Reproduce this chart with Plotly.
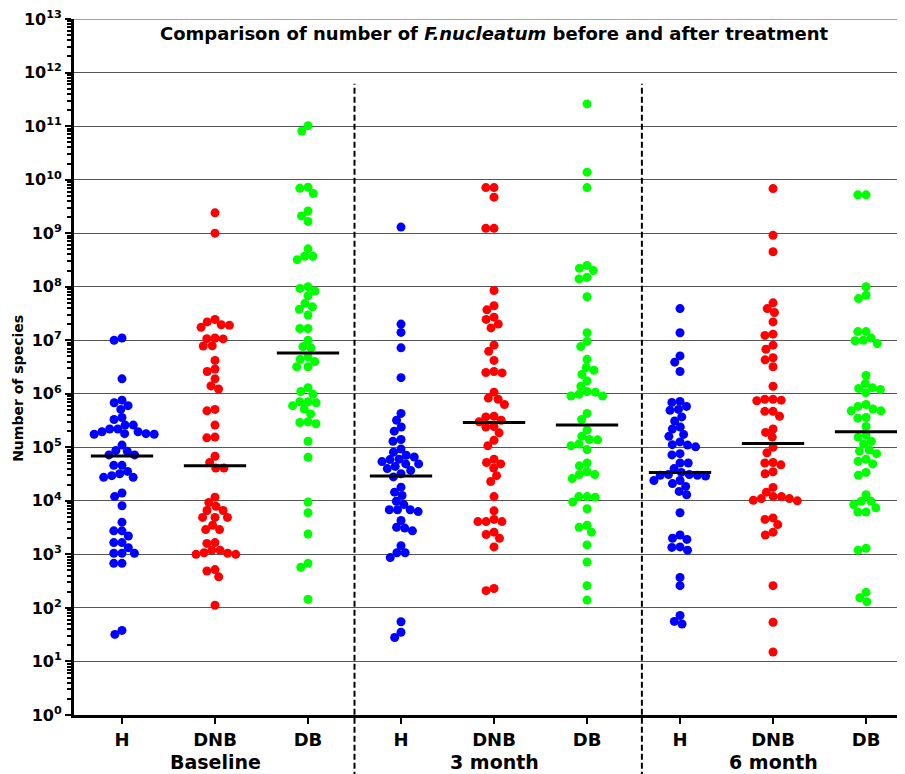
import numpy as np
import plotly.graph_objects as go

# ---------------- data ----------------
categories = ["H", "DNB", "DB", "H", "DNB", "DB", "H", "DNB", "DB"]
timepoints = ["Baseline", "3 month", "6 month"]
group_colors = ["#0000FF", "#FF0000", "#00FF00"]

baseline_H = [1.1e7, 1.0e7, 1.9e6, 7.6e5, 6.0e5, 6.8e5, 5.1e5, 3.6e5, 3.3e5, 2.6e5,
              2.2e5, 1.95e5, 1.8e5, 1.75e5, 1.75e5, 1.8e5, 1.95e5, 2.2e5, 2.6e5, 1.1e5,
              8.4e4, 7.2e4, 7.2e4, 8.7e4, 4.6e4, 3.2e4, 2.75e4, 2.75e4, 2.95e4, 3.55e4,
              4.6e4, 1.4e4, 1.2e4, 8.1e3, 4.0e3, 2.75e3, 2.75e3, 2.2e3, 1.66e3, 1.66e3,
              1.33e3, 1.05e3, 1.05e3, 1.05e3, 680, 680, 32, 38]
baseline_DNB = [2.4e9, 1.0e9, 2.2e7, 1.9e7, 1.74e7, 1.95e7, 2.45e7, 1.07e7, 1.06e7, 1.1e7,
                7.8e6, 7.9e6, 4.2e6, 2.9e6, 2.6e6, 1.9e6, 1.23e6, 1.4e6, 5.1e5, 4.8e5,
                2.6e5, 1.5e5, 1.55e5, 6.8e4, 4.1e4, 4.1e4, 5.2e4, 1.17e4, 9.3e3, 7.9e3,
                6.6e3, 6.6e3, 4.9e3, 4.9e3, 4.9e3, 3.5e3, 2.9e3, 2.9e3, 1.6e3, 1.66e3,
                1.2e3, 1.05e3, 1.0e3, 1.0e3, 1.07e3, 1.2e3, 490, 380, 520, 112]
baseline_DB = [1.02e11, 8.1e10, 7.2e9, 5.5e9, 6.9e9, 2.1e9, 1.66e9, 2.6e9, 3.7e8, 3.2e8,
               3.7e8, 5.1e8, 9.3e7, 8.3e7, 1.0e8, 6.8e7, 4.9e7, 3.8e7, 4.2e7, 2.95e7,
               1.66e7, 1.66e7, 1.0e7, 7.2e6, 7.6e6, 4.4e6, 3.2e6, 3.2e6, 4.0e6, 4.9e6,
               1.3e6, 1.1e6, 9.8e5, 7.1e5, 6.0e5, 7.1e5, 6.8e5, 5.2e5, 4.2e5, 3.0e5,
               2.75e5, 2.9e5, 1.3e5, 6.5e4, 9.5e3, 6.0e3, 2.4e3, 680, 575, 145]
month3_H = [1.3e9, 1.4e7, 2.0e7, 7.2e6, 2.0e6, 4.3e5, 3.2e5, 2.0e5, 2.4e5, 1.3e5,
            1.4e5, 8.1e4, 6.6e4, 5.9e4, 5.4e4, 6.0e4, 7.1e4, 9.3e4, 4.9e4, 4.4e4,
            3.7e4, 2.8e4, 3.2e4, 4.0e4, 4.9e4, 1.8e4, 1.45e4, 1.26e4, 9.8e3, 8.5e3,
            6.8e3, 6.3e3, 6.8e3, 6.8e3, 4.3e3, 3.1e3, 2.75e3, 3.2e3, 1.45e3, 1.07e3,
            870, 1.07e3, 55, 35, 28]
month3_DNB = [7.1e9, 7.1e9, 4.7e9, 1.23e9, 1.23e9, 8.5e7, 3.7e7, 4.4e7, 2.7e7, 2.0e7,
              1.7e7, 2.45e7, 8.1e6, 6.2e6, 4.2e6, 2.5e6, 2.45e6, 2.6e6, 1.07e6, 8.3e5,
              7.9e5, 6.3e5, 3.8e5, 3.7e5, 3.2e5, 3.0e5, 2.45e5, 2.4e5, 1.86e5, 1.35e5,
              1.07e5, 6.0e4, 5.2e4, 4.1e4, 4.9e4, 2.3e4, 2.95e4, 1.2e4, 6.5e3, 4.5e3,
              4.1e3, 4.1e3, 4.1e3, 2.6e3, 2.0e3, 2.35e3, 1.38e3, 210, 230]
month3_DB = [2.6e11, 1.38e10, 7.1e9, 2.5e8, 2.0e8, 1.4e8, 1.5e8, 2.2e8, 6.5e7, 1.38e7,
             9.5e6, 7.6e6, 4.4e6, 2.75e6, 3.1e6, 2.3e6, 1.74e6, 1.38e6, 1.07e6, 9.1e5,
             9.1e5, 1.1e6, 9.8e5, 4.3e5, 3.3e5, 2.1e5, 1.6e5, 1.38e5, 1.07e5, 1.15e5,
             1.4e5, 9.1e4, 5.1e4, 4.5e4, 3.1e4, 2.6e4, 3.1e4, 3.5e4, 1.2e4, 9.5e3,
             1.17e4, 1.2e4, 7.1e3, 3.5e3, 3.2e3, 2.6e3, 1.5e3, 720, 260, 140]
month6_H = [3.9e7, 1.38e7, 5.1e6, 3.9e6, 2.6e6, 7.2e5, 5.8e5, 4.9e5, 5.1e5, 6.9e5,
            3.7e5, 3.1e5, 2.4e5, 2.2e5, 1.6e5, 1.74e5, 1.12e5, 1.02e5, 1.1e5, 1.26e5,
            7.2e4, 7.6e4, 5.1e4, 5.1e4, 4.0e4, 3.1e4, 3.0e4, 2.9e4, 3.0e4, 3.1e4,
            3.4e4, 2.1e4, 2.4e4, 2.4e4, 1.86e4, 1.5e4, 1.3e4, 6.0e3, 2.0e3, 2.3e3,
            1.9e3, 1.38e3, 1.2e3, 1.35e3, 370, 260, 72, 50, 56]
month6_DNB = [6.8e9, 9.1e8, 4.5e8, 5.0e7, 3.3e7, 3.9e7, 2.2e7, 1.23e7, 1.3e7, 6.8e6,
              8.1e6, 4.3e6, 4.7e6, 3.2e6, 1.38e6, 7.9e5, 7.4e5, 7.6e5, 7.9e5, 4.7e5,
              3.8e5, 4.7e5, 2.2e5, 1.9e5, 1.55e5, 1.0e5, 7.9e4, 5.2e4, 4.7e4, 3.2e4,
              3.5e4, 5.1e4, 1.78e4, 1.45e4, 1.2e4, 1.1e4, 1.02e4, 1.0e4, 1.1e4, 1.2e4,
              4.5e3, 4.8e3, 3.6e3, 2.6e3, 2.3e3, 260, 54, 15]
month6_DB = [5.2e9, 5.2e9, 1.0e8, 6.0e7, 6.9e7, 1.45e7, 1.45e7, 1.1e7, 9.8e6, 8.7e6,
             1.0e7, 2.2e6, 1.3e6, 1.2e6, 1.05e6, 1.26e6, 1.55e6, 6.3e5, 5.2e5, 4.8e5,
             4.8e5, 5.8e5, 3.5e5, 3.6e5, 2.45e5, 1.55e5, 1.7e5, 1.15e5, 1.3e5, 8.5e4,
             8.9e4, 7.6e4, 6.0e4, 4.9e4, 5.5e4, 3.0e4, 3.4e4, 1.3e4, 9.8e3, 9.8e3,
             7.4e3, 8.5e3, 6.2e3, 6.2e3, 1.3e3, 1.2e3, 195, 130, 155]

medians = [6.9e4, 4.5e4, 5.8e6, 2.9e4, 2.9e5, 2.6e5, 3.4e4, 1.18e5, 1.96e5]

groups = [baseline_H, baseline_DNB, baseline_DB,
          month3_H, month3_DNB, month3_DB,
          month6_H, month6_DNB, month6_DB]

y_exponents = list(range(0, 14))

# ---------------- layout geometry ----------------
# the page body adds an 8px margin, so the figure is 8px smaller than the window
W, H = 897, 766
ML, MR, MT, MB = 66, 0, 9, 59
x_range = [-0.516, 8.419]
y_range = [-0.0007, 13.0007]
plot_w = W - ML - MR
plot_h = H - MT - MB
px_per_x = plot_w / (x_range[1] - x_range[0])
px_per_decade = plot_h / (y_range[1] - y_range[0])

MARKER = 9
DIST = 8.2


def swarm_offsets(values):
    """Greedy beeswarm: place each point at the smallest horizontal offset
    that does not overlap points already placed (pixel space)."""
    ly = np.log10(np.asarray(values, dtype=float)) * px_per_decade
    order = np.argsort(-ly, kind="stable")
    placed = []
    xs = np.zeros(len(ly))
    for i in order:
        y = ly[i]
        forb = []
        cands = [0.0]
        for (px, py) in placed:
            dy = abs(py - y)
            if dy < DIST:
                dx = np.sqrt(DIST * DIST - dy * dy)
                forb.append((px - dx, px + dx))
                cands += [px - dx, px + dx]
        cands.sort(key=lambda c: (abs(c), c))
        for c in cands:
            if all(not (a + 1e-6 < c < b - 1e-6) for a, b in forb):
                xs[i] = c
                break
        placed.append((xs[i], y))
    return xs / px_per_x


font_family = "DejaVu Sans, Liberation Sans, Arial, sans-serif"

fig = go.Figure()

for gi, vals in enumerate(groups):
    offs = swarm_offsets(vals)
    fig.add_trace(go.Scatter(
        x=gi + offs, y=vals, mode="markers",
        marker=dict(size=MARKER, color=group_colors[gi % 3], line=dict(width=0)),
        hoverinfo="y", showlegend=False,
    ))

for gi, m in enumerate(medians):
    fig.add_trace(go.Scatter(
        x=[gi - 0.335, gi + 0.335], y=[m, m], mode="lines",
        line=dict(color="black", width=3), hoverinfo="skip", showlegend=False,
    ))

# top gridline (plotly drops the grid line lying on the plot edge)
fig.add_shape(type="line", xref="paper", yref="y", x0=0, x1=1,
              y0=10 ** y_exponents[-1], y1=10 ** y_exponents[-1],
              line=dict(color="#555555", width=1), layer="below")

# separators between time points
for xs in [2.5, 5.59]:
    fig.add_shape(type="line", xref="x", yref="paper", x0=xs, x1=xs,
                  y0=-0.09, y1=0.907, line=dict(color="black", width=2, dash="6px,3px"),
                  layer="above")

# time point labels
for ti, name in enumerate(timepoints):
    fig.add_annotation(x=3 * ti + 1, y=-0.0673, xref="x", yref="paper",
                       text=name, showarrow=False, yanchor="middle",
                       font=dict(family=font_family, size=19, color="black", weight="bold"))

# title
fig.add_annotation(x=0.505, y=0.9785, xref="paper", yref="paper",
                   text="Comparison of number of <i>F.nucleatum</i> before and after treatment",
                   showarrow=False, yanchor="middle",
                   font=dict(family=font_family, size=18, color="black", weight="bold"))

# y title
fig.add_annotation(x=-0.0674, y=0.47, xref="paper", yref="paper",
                   text="Number of species", textangle=-90, showarrow=False,
                   xanchor="center", yanchor="middle",
                   font=dict(family=font_family, size=14, color="black", weight="bold"))

minor_vals = [m * 10 ** k for k in range(0, 13) for m in range(2, 10)]

fig.update_layout(
    width=W, height=H,
    margin=dict(l=ML, r=MR, t=MT, b=MB),
    plot_bgcolor="white", paper_bgcolor="white",
    showlegend=False,
    xaxis=dict(
        range=x_range, tickmode="array", tickvals=list(range(len(categories))),
        ticktext=categories, ticks="outside", ticklen=6, tickwidth=2, tickcolor="black",
        showline=True, linewidth=3, linecolor="black", showgrid=False, zeroline=False,
        tickfont=dict(family=font_family, size=18, color="black", weight="bold"),
    ),
    yaxis=dict(
        type="log", range=y_range, tickmode="array",
        tickvals=[10 ** k for k in y_exponents],
        ticktext=[f"10<sup>{k}</sup>" for k in y_exponents],
        ticks="outside", ticklen=6, tickwidth=2, tickcolor="black",
        showline=True, linewidth=3, linecolor="black",
        showgrid=True, gridcolor="#555555", gridwidth=1, zeroline=False,
        ticklabeloverflow="allow",
        minor=dict(tickmode="array", tickvals=minor_vals, ticks="outside", ticklen=4,
                   tickwidth=1.5, tickcolor="black", showgrid=False),
        tickfont=dict(family=font_family, size=16, color="black", weight="bold"),
    ),
)

fig.write_html("out.html")
